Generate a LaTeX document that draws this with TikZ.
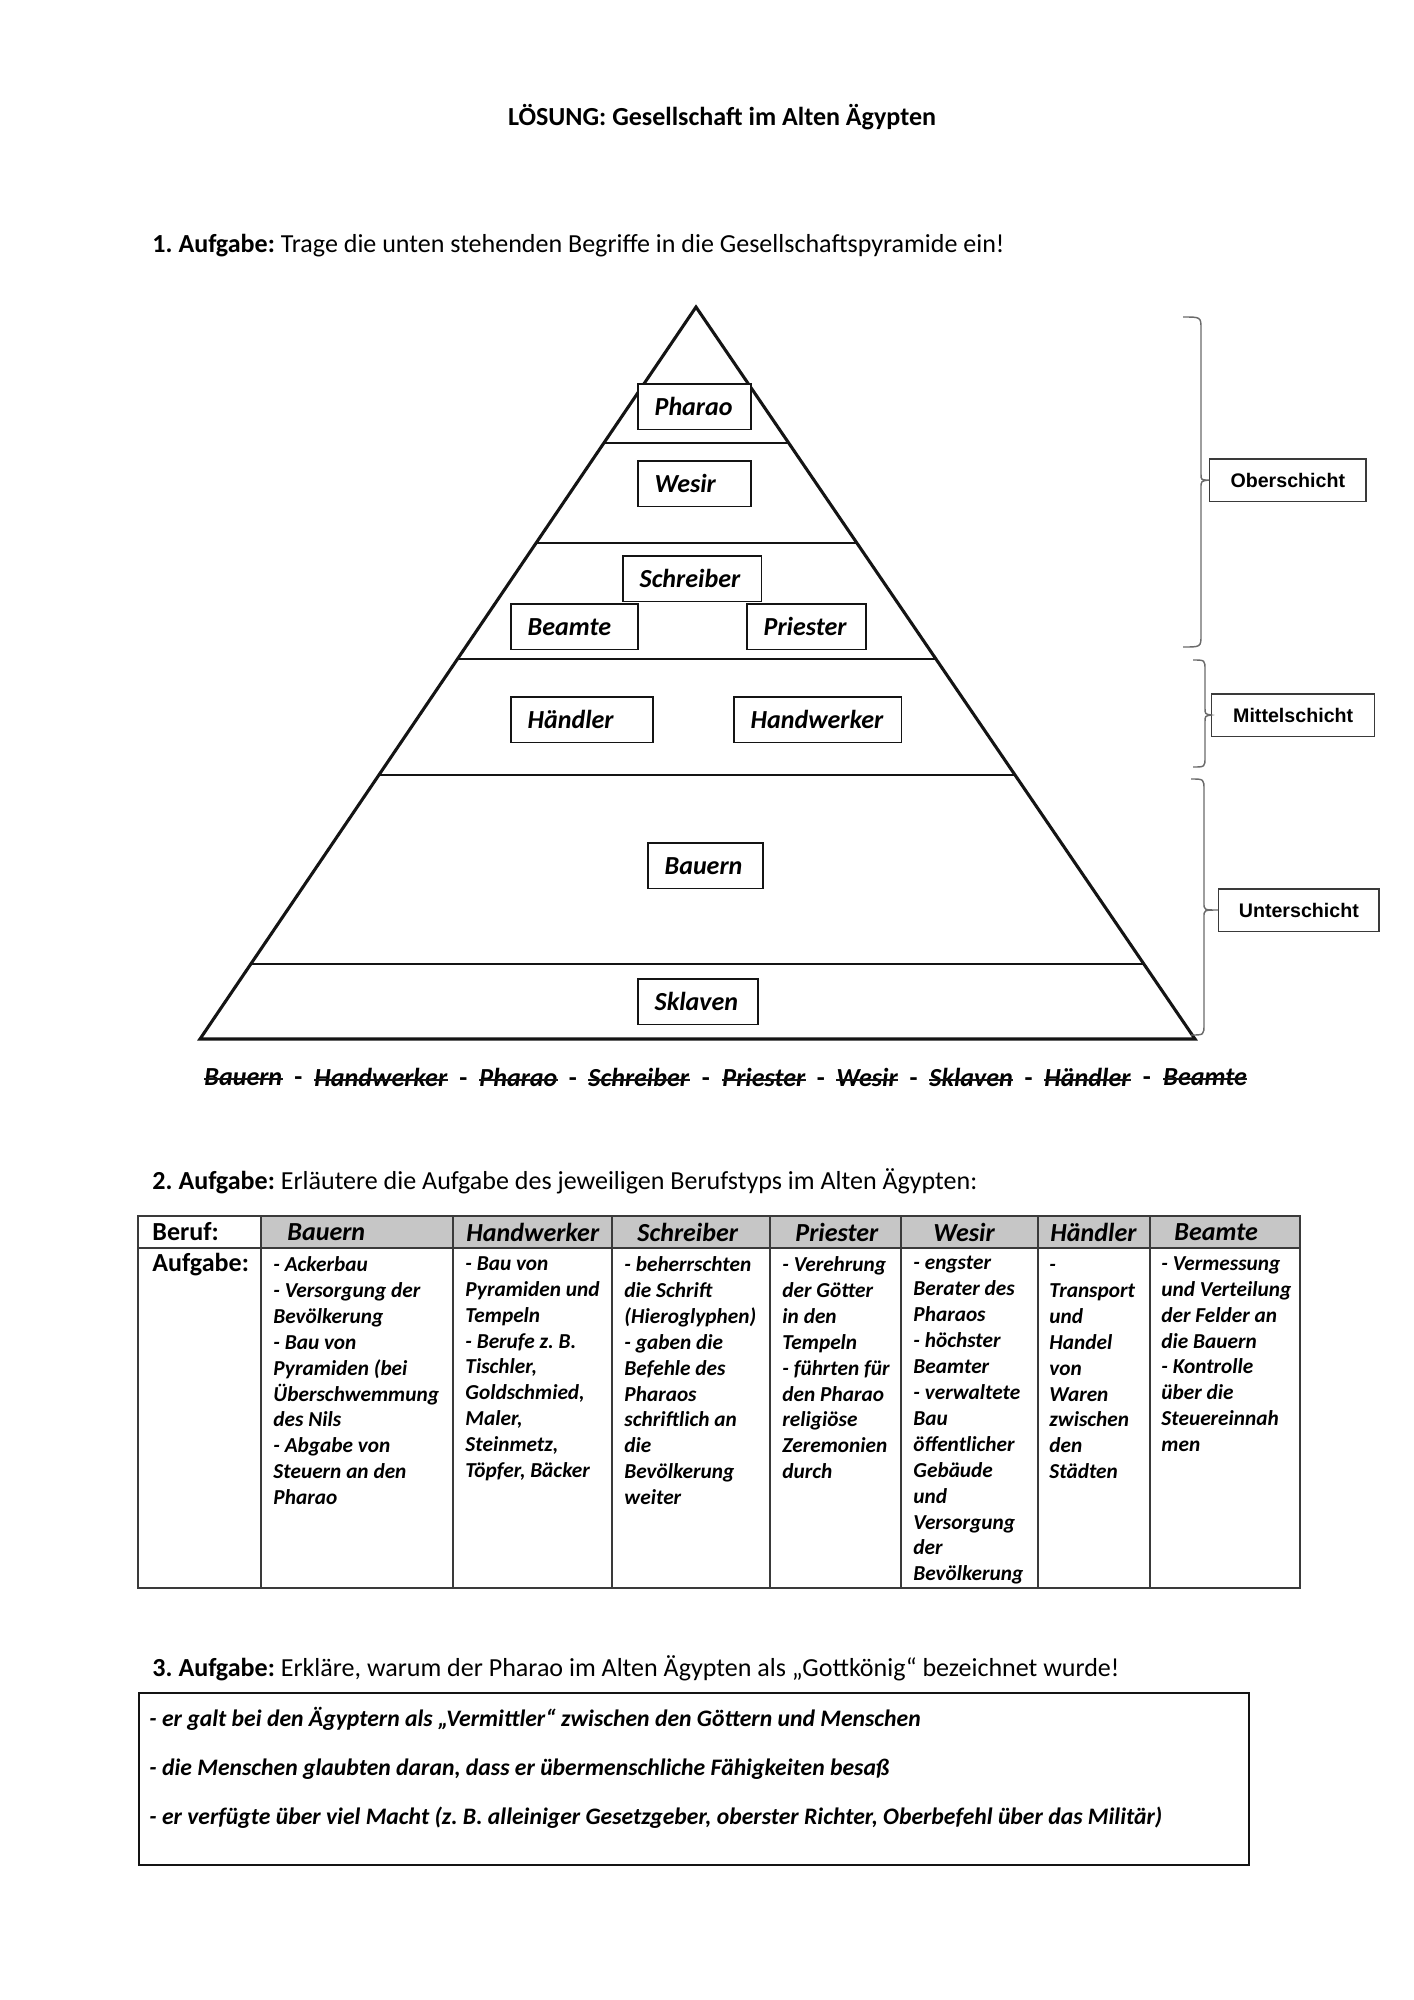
\documentclass[tikz,border=0pt]{standalone}
\usepackage{fontspec}
\setmainfont{Carlito}
\newfontfamily\schichtfont{Liberation Sans}
\usepackage{xcolor}
\usepackage{tikz}
\usetikzlibrary{calc,positioning}
\definecolor{PyrInk}{HTML}{141414}
\definecolor{PyrRule}{HTML}{3A3A3A}
\definecolor{PyrBrace}{HTML}{6A6A6A}
\definecolor{PyrHead}{HTML}{C6C6C6}
\frenchspacing

\begin{document}
\begin{tikzpicture}[x=0.14851mm,y=-0.14851mm,
  pbox/.style={draw=PyrInk,fill=white,line width=.7pt,anchor=north west,
    minimum height=6.8mm,inner xsep=2.5mm,inner ysep=0pt,text width=#1,
    align=left,font=\bfseries\itshape\fontsize{11}{13}\selectfont},
  lbox/.style={draw=PyrRule,line width=.6pt,anchor=west,minimum width=#1,
    minimum height=6.3mm,font=\schichtfont\bfseries\fontsize{8.3}{10}\selectfont},
  brc/.style={draw=PyrBrace,line width=.6pt},
  layer/.style={draw=PyrInk,line width=.6pt},
  rule/.style={draw=PyrRule,line width=.6pt},
  head/.style={anchor=west,inner sep=0pt,font=\fontsize{11}{13}\selectfont},
  hd/.style={anchor=west,inner sep=0pt,font=\bfseries\itshape\fontsize{11}{13}\selectfont},
  cell/.style={anchor=north west,inner sep=0pt,align=left,
    font=\bfseries\itshape\fontsize{9}{10.95}\selectfont},
  ans/.style={anchor=west,inner sep=0pt,font=\bfseries\itshape\fontsize{10}{12}\selectfont}
]
\fill[white] (0,0) rectangle (1414,2000);

% Kopf
\node[font=\bfseries\fontsize{11}{13}\selectfont] (titel) at (722,117) {LÖSUNG: Gesellschaft im Alten Ägypten};
\node[head] (auf1) at (152,246) {\textbf{1. Aufgabe:} Trage die unten stehenden Begriffe in die Gesellschaftspyramide ein!};

% Pyramide
\coordinate (apex) at (696,307);
\coordinate (bl) at (200,1039);
\coordinate (br) at (1195,1039);
\draw[draw=PyrInk,line width=1.3pt] (apex) -- (bl) -- (br) -- cycle;
\foreach \t in {0.1858,0.3224,0.4809,0.6393,0.8975}
  \draw[layer] ($(apex)!\t!(bl)$) -- ($(apex)!\t!(br)$);

\node[pbox=11.8mm] (pharao) at (637,383) {Pharao};
\node[pbox=11.8mm] (wesir) at (637,460) {Wesir};
\node[pbox=15.6mm] (schreiber) at (622,555) {Schreiber};
\node[pbox=13.9mm] (beamte) at (510,603) {Beamte};
\node[pbox=12.7mm] (priester) at (746,603) {Priester};
\node[pbox=16.1mm] (haendler) at (510,696) {Händler};
\node[pbox=19.9mm] (handwerker) at (733,696) {Handwerker};
\node[pbox=12.1mm] (bauern) at (647,842) {Bauern};
\node[pbox=12.8mm] (sklaven) at (637,978) {Sklaven};

% Schichten
\node[lbox=23.2mm] (ober) at (1209,480) {Oberschicht};
\node[lbox=24.2mm] (mittel) at (1211,715) {Mittelschicht};
\node[lbox=23.8mm] (unter) at (1218,910) {Unterschicht};
\coordinate (ob-top) at (1183,317);
\coordinate (ob-bot) at (1183,647);
\coordinate (mi-top) at (1193,660);
\coordinate (mi-bot) at (1193,767);
\coordinate (un-top) at (1191,779);
\coordinate (un-bot) at (1191,1035);
\draw[brc] (ob-top) .. controls (1201,317) .. (1201,329) -- (1201,474)
  .. controls (1201,480) .. (ober.west) .. controls (1201,481) .. (1201,488)
  -- (1201,635) .. controls (1201,647) .. (ob-bot);
\draw[brc] (mi-top) .. controls (1205,660) .. (1205,670) -- (1205,708)
  .. controls (1205,714) .. (mittel.west) .. controls (1205,716) .. (1205,722)
  -- (1205,757) .. controls (1205,767) .. (mi-bot);
\draw[brc] (un-top) .. controls (1204,779) .. (1204,790) -- (1204,903)
  .. controls (1204,910) .. (unter.west) .. controls (1204,910) .. (1204,917)
  -- (1204,1024) .. controls (1204,1035) .. (un-bot);

% Begriffe (durchgestrichen)
\foreach \w/\x [count=\i] in {Bauern/204,Handwerker/314,Pharao/479,Schreiber/588,Priester/722,Wesir/836,Sklaven/929,Händler/1044,Beamte/1163}{
  \node[hd] (wort\i) at (\x,1077) {\w};
  \draw[draw=PyrInk,line width=1pt] ([yshift=2.6pt]wort\i.base west) -- ([yshift=2.6pt]wort\i.base east);
}
\foreach \i [evaluate=\i as \j using int(\i+1)] in {1,...,8}
  \node[font=\bfseries\fontsize{11}{13}\selectfont,inner sep=0pt,anchor=base] (strich\i)
    at ($(wort\i.base east)!.5!(wort\j.base west)$) {-};

% Tabelle
\node[head] (auf2) at (152,1181) {\textbf{2. Aufgabe:} Erläutere die Aufgabe des jeweiligen Berufstyps im Alten Ägypten:};
\fill[PyrHead] (261,1216) rectangle (1300,1248);
\draw[rule] (138,1216) rectangle (1300,1588);
\draw[rule] (138,1248) -- (1300,1248);
\foreach \c in {261,453,612,770,901,1038,1150}
  \draw[rule] (\c,1216) -- (\c,1588);
\node[head,font=\bfseries\fontsize{11}{13}\selectfont] (beruf) at (152,1232) {Beruf:};
\node[head,font=\bfseries\fontsize{11}{13}\selectfont] (aufgabe) at (152,1265) {Aufgabe:};
\foreach \name/\x in {Bauern/287,Handwerker/466,Schreiber/637,Priester/795,Wesir/933,Händler/1050,Beamte/1174}
  \node[hd] (kopf-\x) at (\x,1232) {\name};

\node[cell] (t-bauern) at (273,1256) {- Ackerbau\\- Versorgung der\\Bevölkerung\\- Bau von\\Pyramiden (bei\\Überschwemmung\\des Nils\\- Abgabe von\\Steuern an den\\Pharao};
\node[cell] (t-handwerker) at (465,1256) {- Bau von\\Pyramiden und\\Tempeln\\- Berufe z. B.\\Tischler,\\Goldschmied,\\Maler,\\Steinmetz,\\Töpfer, Bäcker};
\node[cell] (t-schreiber) at (624,1256) {- beherrschten\\die Schrift\\(Hieroglyphen)\\- gaben die\\Befehle des\\Pharaos\\schriftlich an\\die\\Bevölkerung\\weiter};
\node[cell] (t-priester) at (782,1256) {- Verehrung\\der Götter\\in den\\Tempeln\\- führten für\\den Pharao\\religiöse\\Zeremonien\\durch};
\node[cell] (t-wesir) at (913,1256) {- engster\\Berater des\\Pharaos\\- höchster\\Beamter\\- verwaltete\\Bau\\öffentlicher\\Gebäude\\und\\Versorgung\\der\\Bevölkerung};
\node[cell] (t-haendler) at (1049,1256) {\vphantom{d}-\\Transport\\und\\Handel\\von\\Waren\\zwischen\\den\\Städten};
\node[cell] (t-beamte) at (1161,1256) {- Vermessung\\und Verteilung\\der Felder an\\die Bauern\\- Kontrolle\\über die\\Steuereinnah\\men};

% Gottkoenig
\node[head] (auf3) at (152,1668) {\textbf{3. Aufgabe:} Erkläre, warum der Pharao im Alten Ägypten als „Gottkönig“ bezeichnet wurde!};
\draw[draw=PyrInk,line width=.7pt] (139,1693) rectangle (1249,1865);
\node[ans] (grund1) at (149,1719) {- er galt bei den Ägyptern als „Vermittler“ zwischen den Göttern und Menschen};
\node[ans] (grund2) at (149,1769) {- die Menschen glaubten daran, dass er übermenschliche Fähigkeiten besaß};
\node[ans] (grund3) at (149,1818) {- er verfügte über viel Macht (z. B. alleiniger Gesetzgeber, oberster Richter, Oberbefehl über das Militär)};
\end{tikzpicture}
\end{document}
